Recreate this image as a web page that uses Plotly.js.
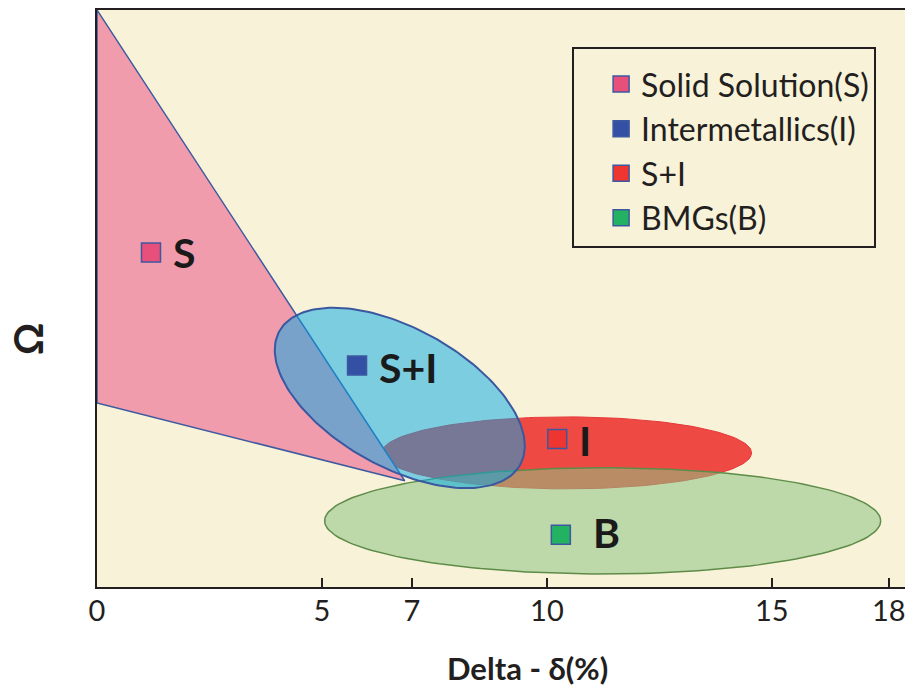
<!DOCTYPE html>
<html>
<head>
<meta charset="utf-8">
<script src="https://cdn.plot.ly/plotly-3.0.1.min.js"></script>
<style>html,body{margin:0;padding:0;background:#fff;}#chart{width:906px;height:690px;}</style>
</head>
<body>
<div id="chart"></div>
<script>
// ---- data ----
const xTickVals = [0, 5, 7, 10, 15, 17.6];
const xTickText = ['0', '5', '7', '10', '15', '18'];

// Solid-solution triangle (delta, omega)
const triX = [0, 0, 6.84];
const triY = [12.82, 4.09, 2.36];

// Region ellipses: centre, semi-axes, tilt (deg)
const ellNames = ['S+I region', 'I region', 'B region'];
const ellCx = [6.73, 10.44, 11.24];
const ellCy = [4.20, 2.98, 1.47];
const ellA  = [3.06, 4.11, 6.18];
const ellB  = [1.54, 0.80, 1.18];
const ellAng = [-29, 0, 0];

// Legend / marker series
const legendNames = ['Solid Solution(S)', 'Intermetallics(I)', 'S+I', 'BMGs(B)'];
const markerX = [1.20, 5.78, 10.23, 10.31];
const markerY = [7.43, 4.92, 3.29, 1.16];
const markerColors = ['#e8507c', '#3450a4', '#ee3530', '#22b262'];
const regionLabels = ['S', 'S+I', 'I', 'B'];

const xTitle = 'Delta - δ(%)';
const yTitle = 'Ω';

// ---- build ----
function ellipse(cx, cy, a, b, angDeg) {
  const t = angDeg * Math.PI / 180, xs = [], ys = [];
  for (let i = 0; i <= 180; i++) {
    const p = 2 * Math.PI * i / 180;
    const ex = a * Math.cos(p), ey = b * Math.sin(p);
    xs.push(cx + ex * Math.cos(t) - ey * Math.sin(t));
    ys.push(cy + ex * Math.sin(t) + ey * Math.cos(t));
  }
  return {x: xs, y: ys};
}
const E = ellCx.map((c, i) => ellipse(c, ellCy[i], ellA[i], ellB[i], ellAng[i]));

const traces = [];
traces.push({type: 'scatter', mode: 'lines', x: E[1].x, y: E[1].y, fill: 'toself',
  fillcolor: '#ef4944', line: {color: '#e5393a', width: 1}, showlegend: false, hoverinfo: 'skip', name: ellNames[1]});
traces.push({type: 'scatter', mode: 'lines', x: E[2].x, y: E[2].y, fill: 'toself',
  fillcolor: 'rgba(140,195,131,0.55)', line: {color: '#5e8c48', width: 1.5}, showlegend: false, hoverinfo: 'skip', name: ellNames[2]});
traces.push({type: 'scatter', mode: 'lines', x: triX.concat([triX[0]]), y: triY.concat([triY[0]]), fill: 'toself',
  fillcolor: '#f09cad', line: {color: '#3d5a9f', width: 1.5}, showlegend: false, hoverinfo: 'skip', name: 'S region'});
traces.push({type: 'scatter', mode: 'lines', x: E[0].x, y: E[0].y, fill: 'toself',
  fillcolor: 'rgba(0,168,232,0.5)', line: {color: '#3a58a0', width: 2}, showlegend: false, hoverinfo: 'skip', name: ellNames[0]});

legendNames.forEach((n, i) => {
  traces.push({type: 'scatter', mode: 'markers', x: [markerX[i]], y: [markerY[i]], name: n,
    legendgroup: 'g' + i,
    marker: {symbol: 'square', size: 19, color: markerColors[i], line: {color: '#3e58a0', width: 1.5}}});
});

const labelXShift = [20, 20, 20, 30];
const labelYShift = [0, -2, -2, 2];
const annotations = regionLabels.map((t, i) => ({
  x: markerX[i], y: markerY[i], xref: 'x', yref: 'y', text: '<b>' + t + '</b>', showarrow: false,
  xanchor: 'left', yanchor: 'middle', xshift: labelXShift[i], yshift: labelYShift[i],
  font: {family: 'Lato, "Open Sans", sans-serif', size: 41, color: '#1a1a1a'}
}));
annotations.push({x: 0.533, y: -0.14, xref: 'paper', yref: 'paper', text: '<b>' + xTitle + '</b>',
  showarrow: false, xanchor: 'center', yanchor: 'middle',
  font: {family: 'Lato, "Open Sans", sans-serif', size: 31, color: '#231f20'}});
annotations.push({x: -0.085, y: 0.43, xref: 'paper', yref: 'paper', text: '<b>' + yTitle + '</b>',
  showarrow: false, textangle: -90, xanchor: 'center', yanchor: 'middle',
  font: {family: 'Lato, "Open Sans", sans-serif', size: 40, color: '#231f20'}});

const layout = {
  width: 906, height: 690,
  margin: {l: 97, r: 1, t: 10, b: 103},
  paper_bgcolor: '#ffffff', plot_bgcolor: '#f8f2d8',
  showlegend: true,
  legend: {x: 0.588, y: 0.936, xanchor: 'left', yanchor: 'top', bgcolor: 'rgba(0,0,0,0)',
    bordercolor: '#231f20', borderwidth: 2, tracegroupgap: 0, traceorder: 'grouped', indentation: 27,
    title: {text: ' ', font: {size: 6}},
    font: {family: 'Lato, "Open Sans", sans-serif', size: 32, color: '#231f20'}},
  xaxis: {range: [0, 17.96], showgrid: false, zeroline: false, showline: true, mirror: true,
    linecolor: '#231f20', linewidth: 2, ticks: 'inside', ticklen: 9, tickwidth: 1.5, tickcolor: '#231f20',
    tickvals: xTickVals, ticktext: xTickText, ticklabelstandoff: -3,
    tickfont: {family: 'Lato, "Open Sans", sans-serif', size: 29, color: '#231f20'}},
  yaxis: {range: [0, 12.82], showgrid: false, zeroline: false, showline: true,
    linecolor: '#231f20', linewidth: 2, ticks: '', showticklabels: false},
  annotations: annotations
};

Plotly.newPlot('chart', traces, layout, {displayModeBar: false, staticPlot: true});
</script>
</body>
</html>
